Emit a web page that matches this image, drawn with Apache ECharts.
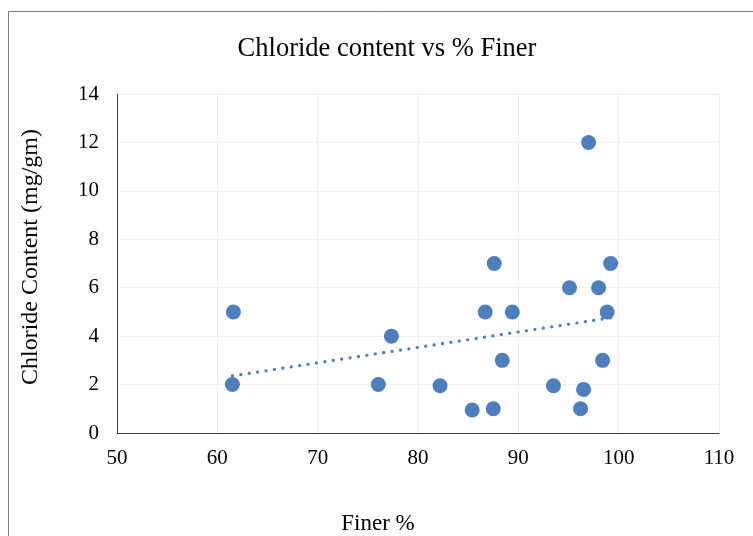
<!DOCTYPE html>
<html><head><meta charset="utf-8">
<script src="https://cdn.jsdelivr.net/npm/echarts@6/dist/echarts.min.js"></script>
<style>html,body{margin:0;padding:0;background:#fff}#c{width:753px;height:536px}</style>
</head><body><div id="c"></div>
<script>
const finer = [61.6, 61.5, 77.35, 76.05, 82.2, 85.4, 86.7, 87.5, 87.6, 88.4, 89.4, 93.5, 95.1, 96.2, 96.5, 97.0, 98.0, 98.4, 98.85, 99.2];
const chloride = [5, 2, 4, 2, 1.95, 0.95, 5, 1, 7, 3, 5, 1.95, 6, 1, 1.8, 12, 6, 3, 5, 7];
const xTicks = [50, 60, 70, 80, 90, 100, 110];
const yTicks = [0, 2, 4, 6, 8, 10, 12, 14];

const points = finer.map((x, i) => [x, chloride[i]]);
// least-squares linear trendline from the data
const n = finer.length;
const mx = finer.reduce((a, b) => a + b, 0) / n;
const my = chloride.reduce((a, b) => a + b, 0) / n;
let sxy = 0, sxx = 0;
for (let i = 0; i < n; i++) { sxy += (finer[i] - mx) * (chloride[i] - my); sxx += (finer[i] - mx) ** 2; }
const slope = sxy / sxx, icpt = my - slope * mx;
const xmin = Math.min(...finer), xmax = Math.max(...finer);
const trend = [[xmin, icpt + slope * xmin], [xmax, icpt + slope * xmax]];

const font = '"Liberation Serif", "Times New Roman", serif';
const chart = echarts.init(document.getElementById('c'));
chart.setOption({
  animation: false,
  backgroundColor: '#fff',
  graphic: [{ type: 'rect', left: 6, top: 9, shape: { width: 800, height: 600 }, style: { fill: 'none', stroke: '#7a7a7a', lineWidth: 1 } }],
  title: { text: 'Chloride content vs % Finer', left: 382, textAlign: 'center', top: 31, textStyle: { fontFamily: font, fontWeight: 'normal', fontSize: 26.5, color: '#000' } },
  grid: { left: 117, right: 34, top: 94, bottom: 103, outerBoundsMode: 'none', containLabel: false },
  xAxis: {
    type: 'value', min: xTicks[0], max: xTicks[xTicks.length - 1], interval: 10,
    name: 'Finer %', nameLocation: 'middle', nameGap: 79,
    nameTextStyle: { fontFamily: font, fontSize: 23, color: '#000', padding: [0, 80, 0, 0] },
    axisLine: { show: true, onZero: false, lineStyle: { color: '#404040', width: 1 } },
    axisTick: { show: false },
    axisLabel: { fontFamily: font, fontSize: 21, color: '#000', margin: 15 },
    splitLine: { show: true, lineStyle: { color: '#efefef', width: 1 } }
  },
  yAxis: {
    type: 'value', min: yTicks[0], max: yTicks[yTicks.length - 1], interval: 2,
    name: 'Chloride Content (mg/gm)', nameLocation: 'middle', nameGap: 74, nameRotate: 90,
    nameTextStyle: { fontFamily: font, fontSize: 24, color: '#000', padding: [0, 0, 0, 13] },
    axisLine: { show: true, lineStyle: { color: '#404040', width: 1 } },
    axisTick: { show: false },
    axisLabel: { fontFamily: font, fontSize: 21, color: '#000', margin: 18 },
    splitLine: { show: true, lineStyle: { color: '#efefef', width: 1 } }
  },
  series: [
    {
      type: 'line', data: trend, symbol: 'none', silent: true, z: 1,
      lineStyle: { color: '#4e7fbc', width: 3.2, type: [0.1, 8.4], cap: 'round' }
    },
    {
      type: 'scatter', data: points, symbolSize: 15, z: 2,
      itemStyle: { color: '#4e7fbc', opacity: 1 }
    }
  ]
});
</script></body></html>
